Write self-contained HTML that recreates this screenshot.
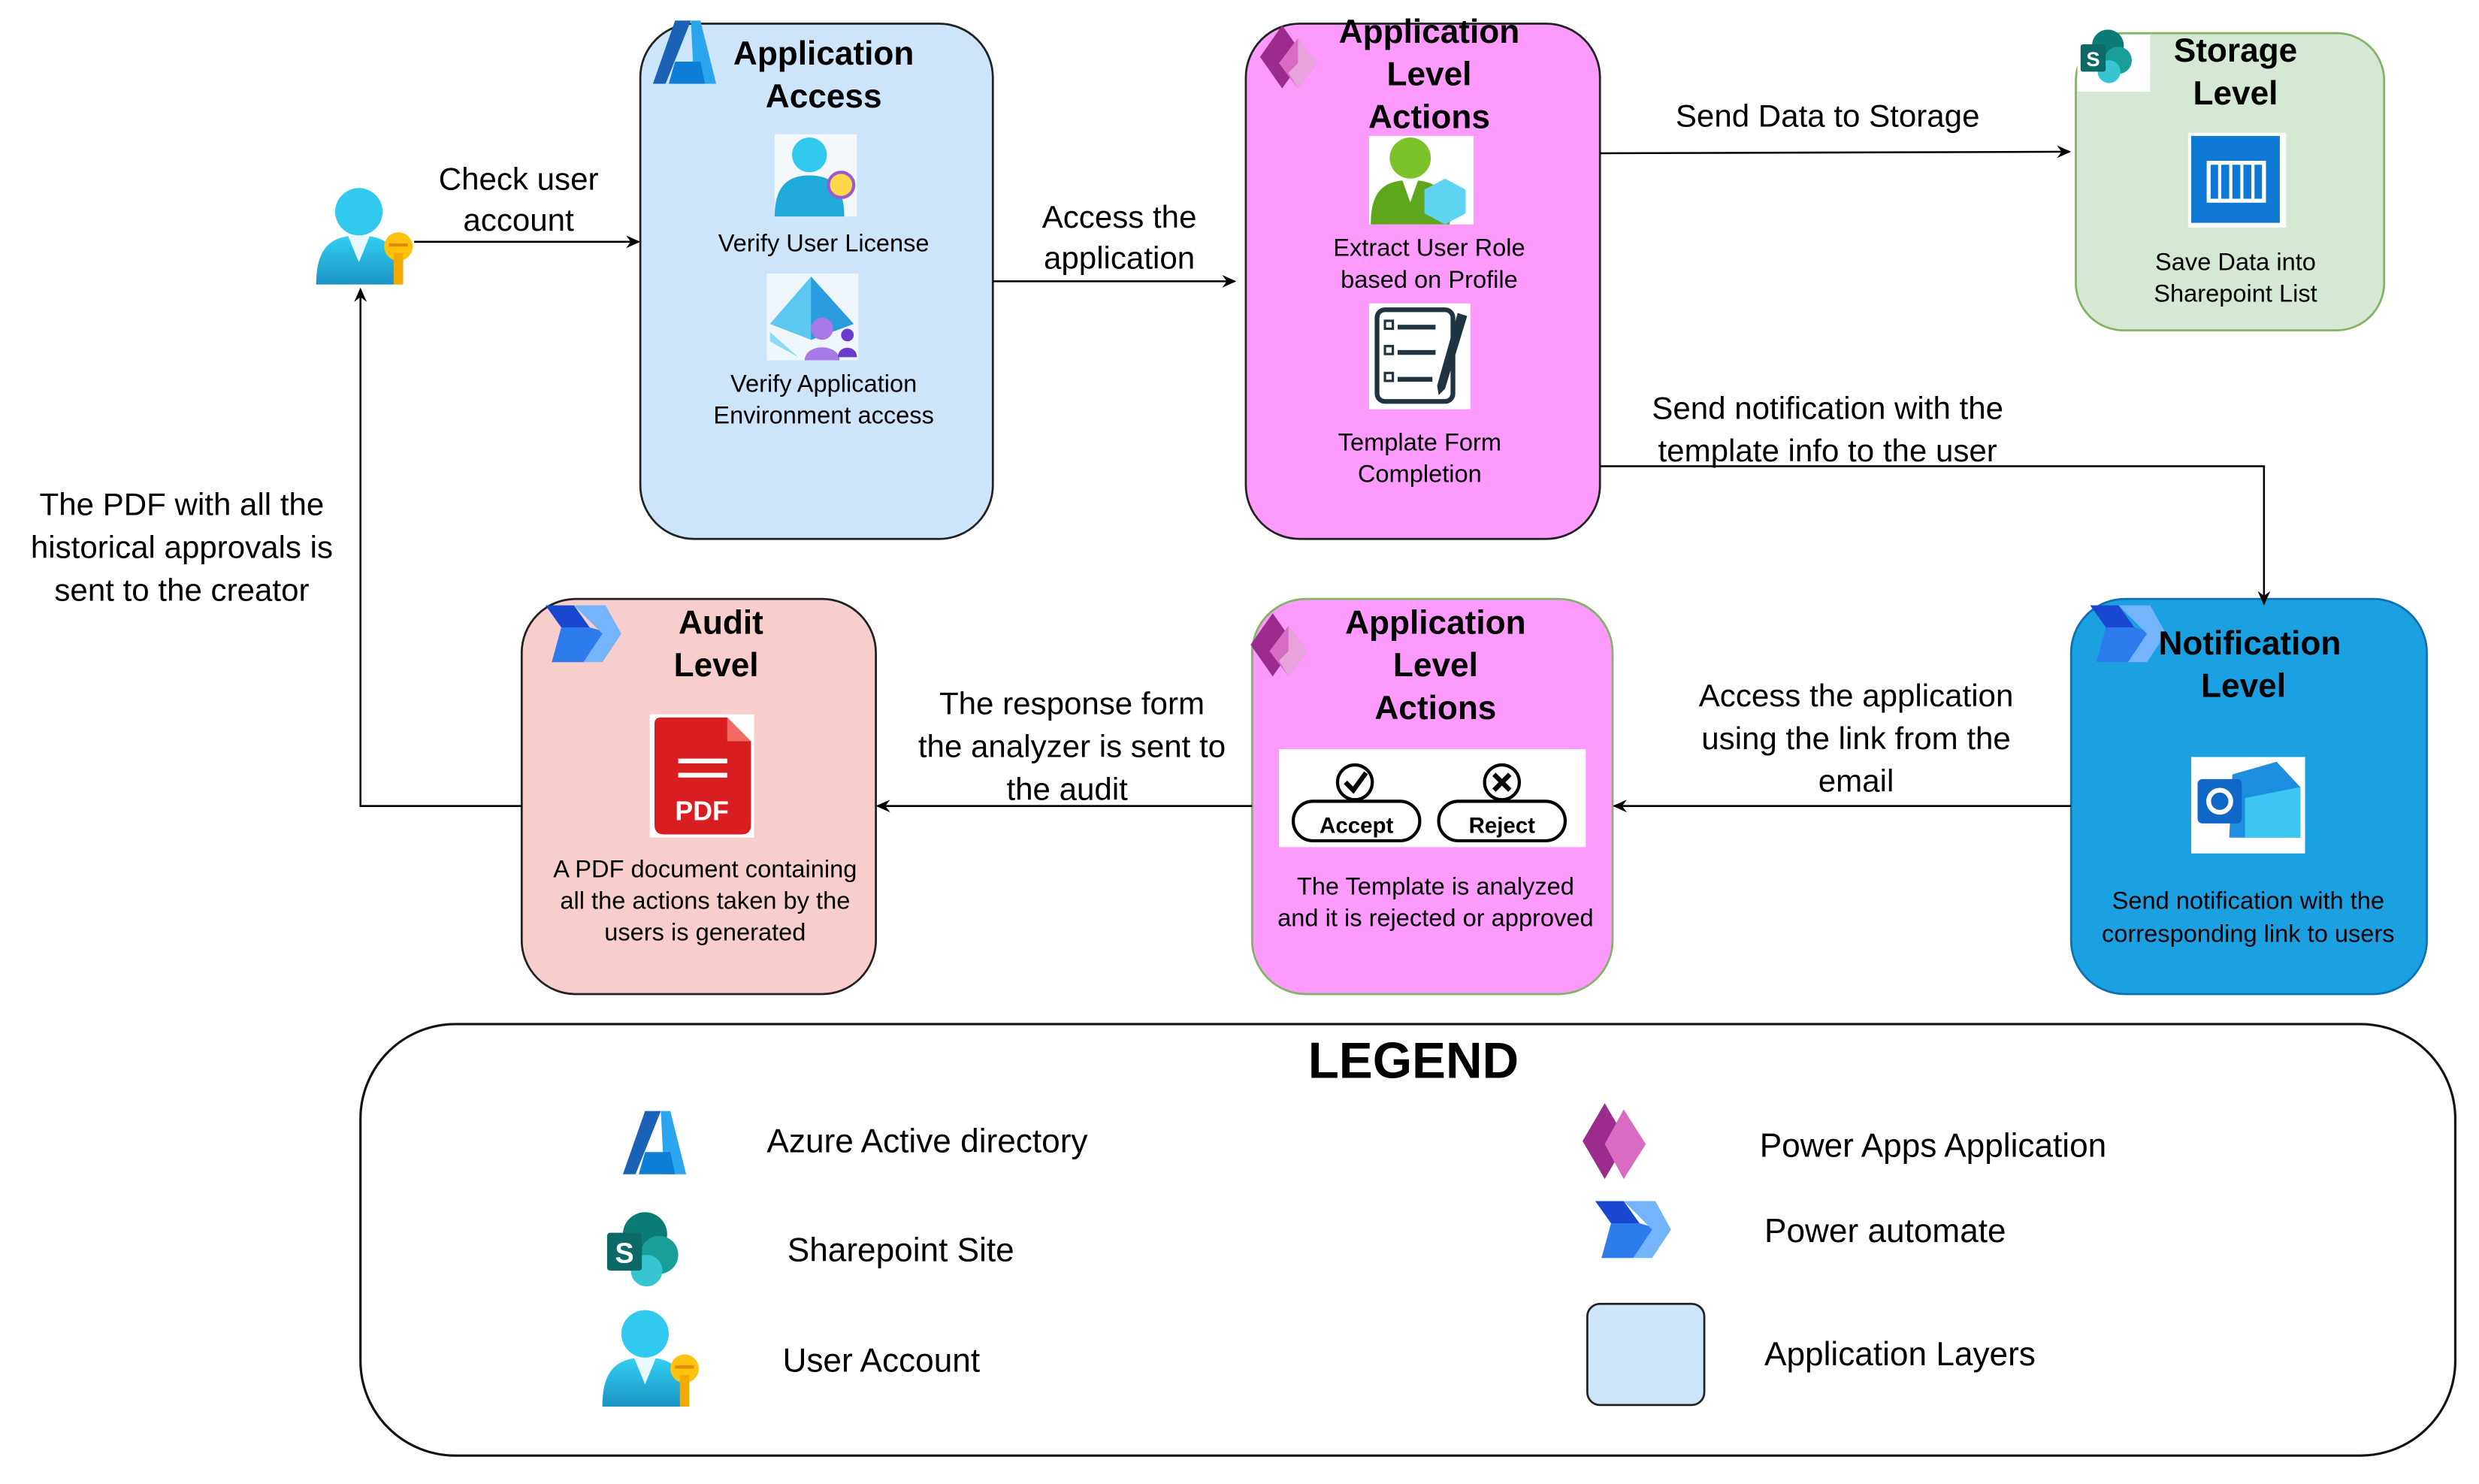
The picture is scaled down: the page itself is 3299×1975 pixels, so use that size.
<!DOCTYPE html>
<html><head><meta charset="utf-8"><style>
html,body{margin:0;padding:0;background:#fff;}
svg{display:block;}
text{font-family:"Liberation Sans",Arial,sans-serif;fill:#000;}
.t{font-size:20px;text-anchor:middle;}
.s{font-size:15.5px;text-anchor:middle;}
.b{font-size:21px;font-weight:bold;text-anchor:middle;}
.l{font-size:21px;}
</style></head><body>
<svg width="3299" height="1975" viewBox="0 0 1568 939" preserveAspectRatio="none" xmlns="http://www.w3.org/2000/svg">
<defs>
<marker id="ar" markerWidth="10" markerHeight="10" refX="8" refY="5" orient="auto" markerUnits="userSpaceOnUse"><path d="M0,1 L9,5 L0,9 L3,5z" fill="#000"/></marker>
<linearGradient id="ub" x1="0" y1="0" x2="0" y2="1"><stop offset="0" stop-color="#32d0f2"/><stop offset="1" stop-color="#1b93c4"/></linearGradient>
<g id="user">
 <circle cx="27" cy="16" r="15" fill="#32c9ef"/>
 <path d="M0,62 C0,40 8,31 27,31 C46,31 54,40 54,62z" fill="url(#ub)"/>
 <path d="M20,31 L27,48 L34,31z" fill="#e8f8ff"/>
 <circle cx="52" cy="38" r="9" fill="#ffc20e"/>
 <rect x="49" y="42" width="6" height="20" fill="#f2a900"/>
 <rect x="46" y="36" width="12" height="2" fill="#e08a00"/>
</g>
<g id="azure">
 <path d="M14,0 L24,0 L8,40 L0,40z" fill="#1a62b5"/>
 <path d="M24,0 L30,0 L40,40 L26,40z" fill="#2aa5ee"/>
 <path d="M14,26 L30,26 L33,40 L10,40z" fill="#0e7fd6"/>
</g>
<g id="papps">
 <path d="M14,0 L28,20 L14,40 L0,20z" fill="#9b2c8e"/>
 <path d="M24,8 L36,24 L24,40 L12,24z" fill="#d86cc2"/>
 <path d="M24,8 L36,24 L24,40 L18,30 L24,24z" fill="#e9a3dc"/>
</g>
<g id="pauto">
 <path d="M0,0 L18,0 L28,14 L10,14z" fill="#1848cf"/>
 <path d="M10,14 L28,14 L42,18 L24,36 L4,36z" fill="#2e7cec"/>
 <path d="M18,0 L38,0 L48,18 L36,36 L24,36 L36,18z" fill="#74b4fa"/>
</g>
<g id="sp">
 <circle cx="24" cy="15" r="14" fill="#0a7b76"/>
 <circle cx="33" cy="28" r="12" fill="#1a9e9a"/>
 <circle cx="25" cy="38" r="10" fill="#37c6d0"/>
 <rect x="0" y="14" width="22" height="24" rx="2" fill="#0b6a67"/>
 <text x="11" y="33" style="font-size:18px;font-weight:bold;fill:#fff;text-anchor:middle">S</text>
</g>
</defs>

<rect x="405" y="15" width="223" height="326" rx="34" fill="#cce5fb" stroke="#222" stroke-width="1.3"/>
<rect x="788" y="15" width="224" height="326" rx="34" fill="#fd9afd" stroke="#222" stroke-width="1.3"/>
<rect x="1313" y="21" width="195" height="188" rx="30" fill="#d5e8d4" stroke="#82b366" stroke-width="1.3"/>
<rect x="1310" y="379" width="225" height="250" rx="34" fill="#1ba1e2" stroke="#1170b0" stroke-width="1.3"/>
<rect x="792" y="379" width="228" height="250" rx="34" fill="#fd9afd" stroke="#82b366" stroke-width="1.3"/>
<rect x="330" y="379" width="224" height="250" rx="34" fill="#f8cecc" stroke="#222" stroke-width="1.3"/>
<rect x="228" y="648" width="1325" height="273" rx="60" fill="#fff" stroke="#111" stroke-width="1.5"/>

<g stroke="#000" stroke-width="1.2" fill="none">
<path d="M262,153 L404,153" marker-end="url(#ar)"/>
<path d="M628,178 L781,178" marker-end="url(#ar)"/>
<path d="M1012,97 L1309,96" marker-end="url(#ar)"/>
<path d="M1012,295 L1432,295 L1432,382" marker-end="url(#ar)"/>
<path d="M1310,510 L1021,510" marker-end="url(#ar)"/>
<path d="M792,510 L555,510" marker-end="url(#ar)"/>
<path d="M330,510 L228,510 L228,183" marker-end="url(#ar)"/>
</g>

<use href="#user" x="200" y="118"/>
<text class="t" x="328" y="120">Check user</text>
<text class="t" x="328" y="146">account</text>

<use href="#azure" x="413" y="13"/>
<text class="b" x="521" y="41">Application</text>
<text class="b" x="521" y="68">Access</text>
<rect x="490" y="85" width="52" height="52" fill="#f4f8fb"/>
<circle cx="512" cy="98" r="11" fill="#32c9ef"/>
<path d="M490,137 C490,118 498,111 512,111 C526,111 534,118 534,137z" fill="#1faad8"/>
<circle cx="532" cy="117" r="8" fill="#ffd84a" stroke="#9b59d0" stroke-width="2"/>
<text class="s" x="521" y="159">Verify User License</text>
<rect x="485" y="173" width="58" height="55" fill="#eef6fb"/>
<path d="M513,175 L540,205 L513,215 L487,205z" fill="#5ac8f0"/>
<path d="M513,175 L540,205 L513,215z" fill="#2a9bdc"/>
<path d="M487,210 L505,226 L487,216z" fill="#8adcf6"/>
<circle cx="520" cy="208" r="7" fill="#a779e6"/><path d="M509,228 C509,217 531,217 531,228z" fill="#a779e6"/>
<circle cx="536" cy="212" r="4" fill="#6b3bcc"/><path d="M530,226 C530,218 542,218 542,226z" fill="#6b3bcc"/>
<text class="s" x="521" y="248">Verify Application</text>
<text class="s" x="521" y="268">Environment access</text>

<text class="t" x="708" y="144">Access the</text>
<text class="t" x="708" y="170">application</text>

<use href="#papps" x="797" y="16"/>
<text class="b" x="904" y="27">Application</text>
<text class="b" x="904" y="54">Level</text>
<text class="b" x="904" y="81">Actions</text>
<rect x="866" y="86" width="66" height="56" fill="#fff"/>
<circle cx="892" cy="100" r="13" fill="#7cc22a"/>
<path d="M867,142 C867,120 876,114 892,114 C908,114 917,120 917,142z" fill="#5ea61c"/>
<path d="M887,114 L892,128 L897,114z" fill="#fff"/>
<path d="M914,113 L927,120 L927,135 L914,142 L901,135 L901,120z" fill="#5fd4f0"/>
<text class="s" x="904" y="162">Extract User Role</text>
<text class="s" x="904" y="182">based on Profile</text>
<rect x="866" y="192" width="64" height="67" fill="#fff"/>
<rect x="871" y="196" width="48" height="58" rx="5" fill="#fff" stroke="#1f3440" stroke-width="3"/>
<g stroke="#1f3440" stroke-width="3"><line x1="884" y1="207" x2="908" y2="207"/><line x1="884" y1="223" x2="908" y2="223"/><line x1="884" y1="240" x2="906" y2="240"/></g>
<g fill="none" stroke="#1f3440" stroke-width="1.5"><rect x="876" y="203" width="5" height="5"/><rect x="876" y="219" width="5" height="5"/><rect x="876" y="236" width="5" height="5"/></g>
<path d="M922,198 L928,200 L914,246 L910,250 L909,244z" fill="#1f3440"/>
<text class="s" x="898" y="285">Template Form</text>
<text class="s" x="898" y="305">Completion</text>

<text class="t" x="1156" y="80">Send Data to Storage</text>
<text class="t" x="1156" y="265">Send notification with the</text>
<text class="t" x="1156" y="292">template  info to the user</text>

<rect x="1314" y="22" width="46" height="36" fill="#fff"/>
<use href="#sp" x="1316" y="18" transform="translate(1316,18) scale(0.72) translate(-1316,-18)"/>
<text class="b" x="1414" y="39">Storage</text>
<text class="b" x="1414" y="66">Level</text>
<rect x="1384" y="84" width="62" height="60" fill="#fff"/>
<rect x="1386" y="86" width="56" height="55" fill="#0f78d4"/>
<rect x="1397" y="103" width="35" height="24" fill="none" stroke="#fff" stroke-width="2.5"/>
<g stroke="#fff" stroke-width="2"><line x1="1404" y1="103" x2="1404" y2="127"/><line x1="1411" y1="103" x2="1411" y2="127"/><line x1="1418" y1="103" x2="1418" y2="127"/><line x1="1425" y1="103" x2="1425" y2="127"/></g>
<text class="s" x="1414" y="171">Save Data into</text>
<text class="s" x="1414" y="191">Sharepoint List</text>

<use href="#pauto" x="1322" y="383"/>
<text class="b" x="1423" y="414">Notification</text>
<text class="b" x="1419" y="441">Level</text>
<rect x="1386" y="479" width="72" height="61" fill="#fff"/>
<path d="M1412,490 L1440,482 L1455,498 L1455,530 L1410,530z" fill="#1e8fe0"/>
<path d="M1420,505 L1455,498 L1455,530 L1420,530z" fill="#3cc7f2"/>
<rect x="1390" y="493" width="28" height="28" rx="3" fill="#0f68c8"/>
<circle cx="1404" cy="507" r="7" fill="none" stroke="#fff" stroke-width="3"/>
<text class="s" x="1422" y="575">Send notification with the</text>
<text class="s" x="1422" y="596">corresponding link to users</text>

<text class="t" x="1174" y="447">Access the application</text>
<text class="t" x="1174" y="474">using the link from the</text>
<text class="t" x="1174" y="501">email</text>

<use href="#papps" x="791" y="388"/>
<text class="b" x="908" y="401">Application</text>
<text class="b" x="908" y="428">Level</text>
<text class="b" x="908" y="455">Actions</text>
<rect x="809" y="474" width="194" height="62" fill="#fff"/>
<rect x="818" y="507" width="80" height="25" rx="12.5" fill="#fff" stroke="#000" stroke-width="2"/>
<rect x="910" y="507" width="80" height="25" rx="12.5" fill="#fff" stroke="#000" stroke-width="2"/>
<circle cx="857" cy="495" r="11" fill="#fff" stroke="#000" stroke-width="2"/>
<circle cx="950" cy="495" r="11" fill="#fff" stroke="#000" stroke-width="2"/>
<path d="M851,495 L856,500 L864,489" fill="none" stroke="#000" stroke-width="3"/>
<path d="M945,490 L955,500 M955,490 L945,500" stroke="#000" stroke-width="3"/>
<text x="858" y="527" style="font-size:14px;font-weight:bold;text-anchor:middle">Accept</text>
<text x="950" y="527" style="font-size:14px;font-weight:bold;text-anchor:middle">Reject</text>
<text class="s" x="908" y="566">The Template is analyzed</text>
<text class="s" x="908" y="586">and it is rejected or approved</text>

<text class="t" x="678" y="452">The response form</text>
<text class="t" x="678" y="479">the analyzer is sent to</text>
<text class="t" x="675" y="506">the audit</text>

<use href="#pauto" x="345" y="383"/>
<text class="b" x="456" y="401">Audit</text>
<text class="b" x="453" y="428">Level</text>
<rect x="411" y="452" width="66" height="78" fill="#fff"/>
<path d="M416,454 L460,454 L475,469 L475,522 Q475,528 469,528 L420,528 Q414,528 414,522 L414,458 Q414,454 418,454z" fill="#d91e22"/>
<path d="M460,454 L475,469 L460,469z" fill="#f26a5f"/>
<rect x="429" y="480" width="31" height="3" fill="#fff"/><rect x="429" y="489" width="31" height="3" fill="#fff"/>
<text x="444" y="519" style="font-size:17px;font-weight:bold;fill:#fff;text-anchor:middle">PDF</text>
<text class="s" x="446" y="555">A PDF document containing</text>
<text class="s" x="446" y="575">all the actions taken by the</text>
<text class="s" x="446" y="595">users is generated</text>

<text class="t" x="115" y="326">The PDF with all the</text>
<text class="t" x="115" y="353">historical approvals is</text>
<text class="t" x="115" y="380">sent to the creator</text>

<text x="894" y="682" style="font-size:32px;font-weight:bold;text-anchor:middle">LEGEND</text>
<use href="#azure" x="394" y="703"/>
<text class="l" x="485" y="729">Azure Active directory</text>
<use href="#sp" x="384" y="766"/>
<text class="l" x="498" y="798">Sharepoint Site</text>
<use href="#user" x="381" y="828"/>
<text class="l" x="495" y="868">User Account</text>
<g transform="translate(1001,698)"><path d="M14,0 L28,24 L14,48 L0,24z" fill="#9b2c8e"/><path d="M26,4 L40,26 L26,48 L14,26z" fill="#d86cc2"/></g>
<text class="l" x="1113" y="732">Power Apps Application</text>
<use href="#pauto" x="1009" y="760"/>
<text class="l" x="1116" y="786">Power automate</text>
<rect x="1004" y="825" width="74" height="64" rx="8" fill="#cce5fb" stroke="#222" stroke-width="1.3"/>
<text class="l" x="1116" y="864">Application Layers</text>
</svg>
</body></html>
